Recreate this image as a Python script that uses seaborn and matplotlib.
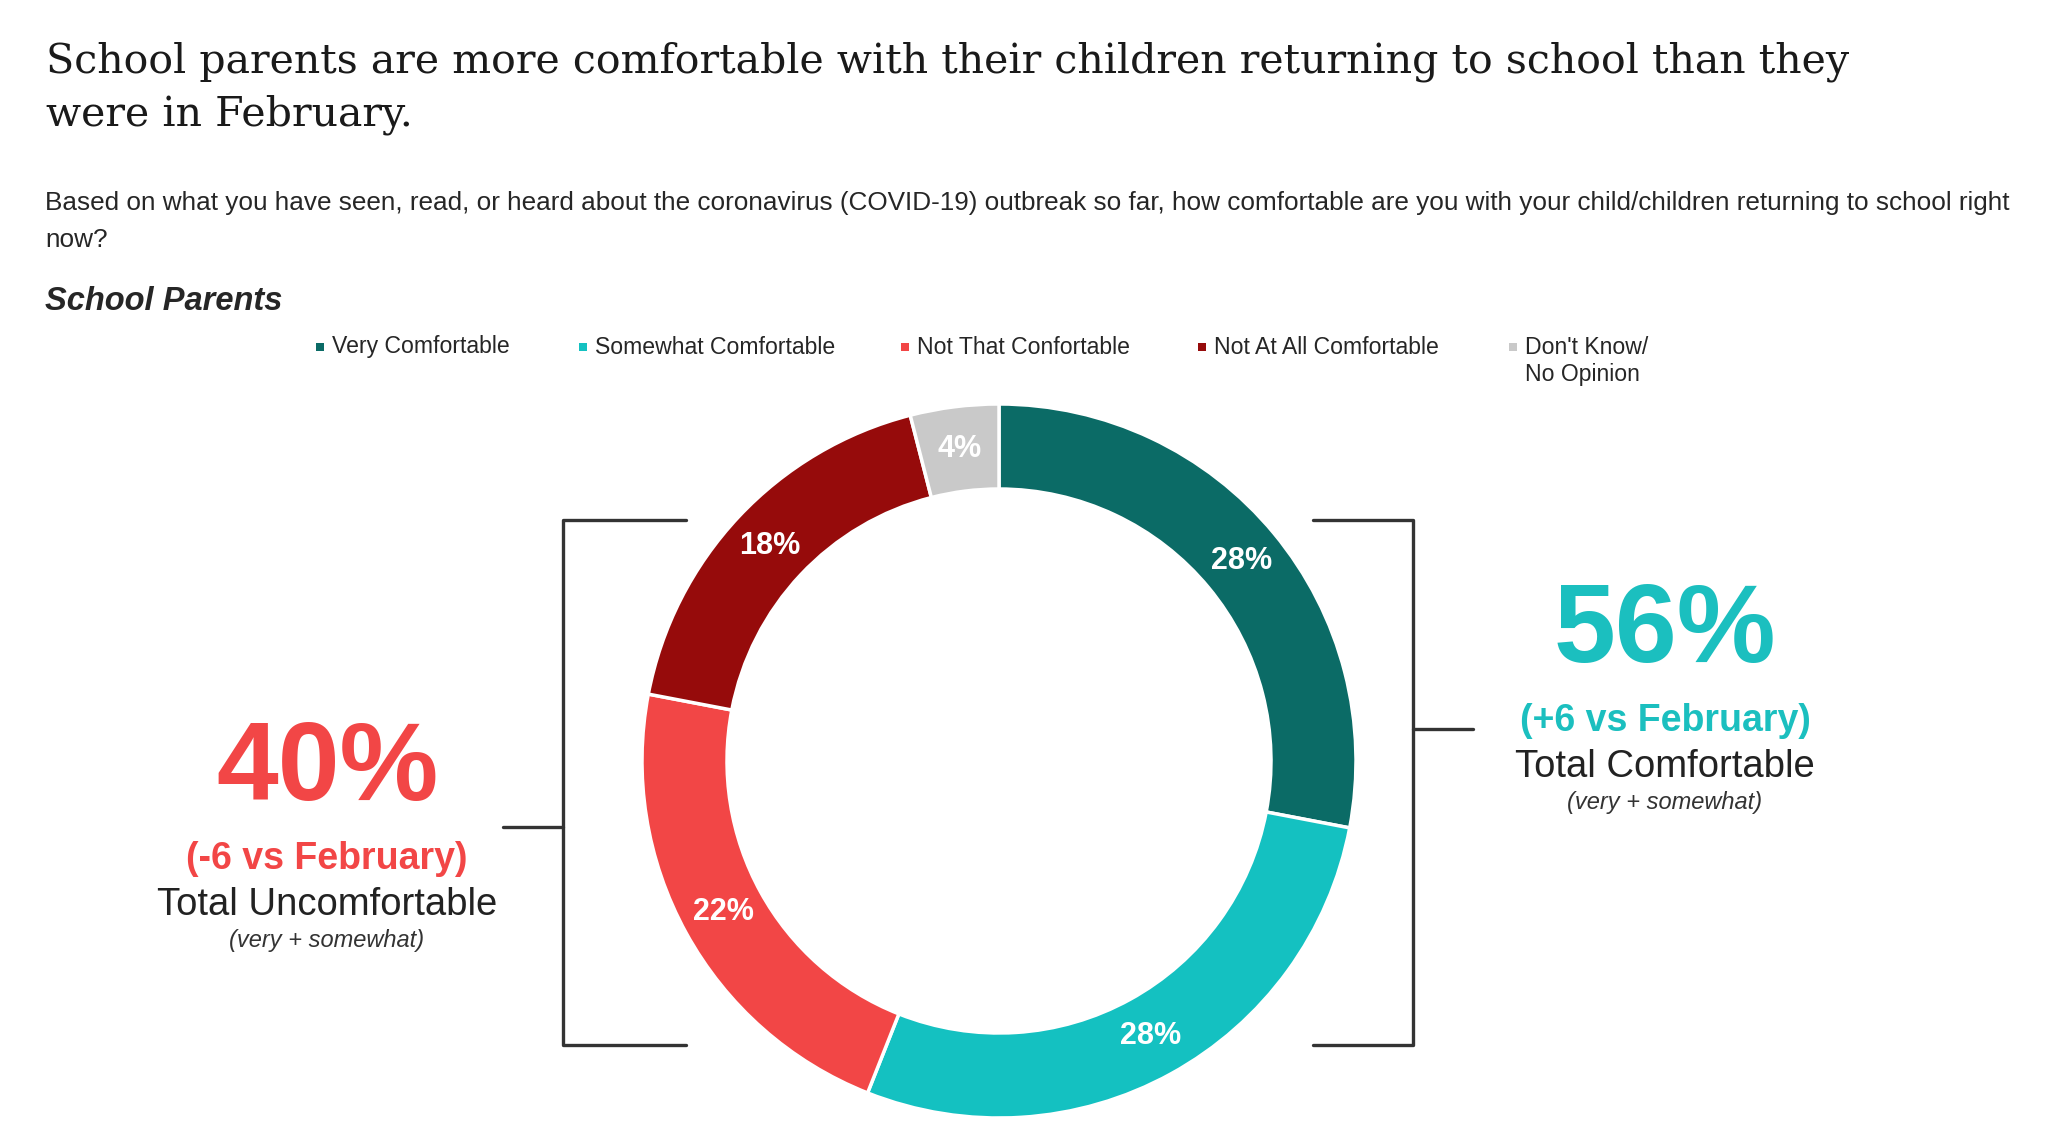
import matplotlib
matplotlib.use("Agg")
import matplotlib.pyplot as plt
import seaborn as sns

# --- data ---
categories = ["Very Comfortable", "Somewhat Comfortable", "Not That Confortable",
              "Not At All Comfortable", "Don't Know/\nNo Opinion"]
shares = [28, 28, 22, 18, 4]
palette = ["#0b6b66", "#14c1c1", "#f24646", "#960b0b", "#c9c9c9"]

total_comfortable = 56
total_uncomfortable = 40
change_comfortable = "+6"
change_uncomfortable = "-6"

W, H = 2048, 1145

sns.set_theme(style="white")
plt.rcParams["font.family"] = ["Liberation Sans", "DejaVu Sans"]

fig = plt.figure(figsize=(W / 100, H / 100), dpi=100)
ax = fig.add_axes([0, 0, 1, 1])


def Y(y):
    # pixel rows from the top -> data y
    return H - y


# titles
ax.text(46, Y(62), "School parents are more comfortable with their children returning to school than they",
        family="DejaVu Serif", fontsize=29.6, color="#1a1a1a", va="center")
ax.text(46, Y(115), "were in February.", family="DejaVu Serif", fontsize=29.6,
        color="#1a1a1a", va="center")
ax.text(45, Y(203), "Based on what you have seen, read, or heard about the coronavirus (COVID-19) outbreak "
        "so far, how comfortable are you with your child/children returning to school right",
        fontsize=18.8, color="#262626", va="center")
ax.text(45, Y(240), "now?", fontsize=18.8, color="#262626", va="center")
ax.text(45, Y(301), "School Parents", fontsize=23.5, fontweight="bold", fontstyle="italic",
        color="#262626", va="center")

# legend
leg_x = [320, 583, 905, 1202, 1513]
for x, lab, col in zip(leg_x, categories, palette):
    ax.scatter([x], [Y(347)], marker="s", s=30, color=col, linewidths=0)
    lines = lab.split("\n")
    for i, line in enumerate(lines):
        ax.text(x + 12, Y(347 + 27 * i), line, fontsize=16.6, color="#262626", va="center")

# donut
cx, cy, R = 999, 761, 357
wedges, _, autotexts = ax.pie(
    shares, colors=palette, startangle=90, counterclock=False,
    center=(cx, Y(cy)), radius=R, frame=True,
    autopct=lambda p: f"{p:.0f}%", pctdistance=0.88,
    wedgeprops=dict(width=R - 272, edgecolor="white", linewidth=2.5),
    textprops=dict(color="white", fontsize=22, fontweight="bold"))
ax.set_xlim(0, W)
ax.set_ylim(0, H)
ax.set_aspect("equal")
ax.axis("off")

# brackets
lc, lw = "#333333", 2.4
ax.plot([686, 563, 563, 686], [Y(520), Y(520), Y(1045), Y(1045)], color=lc, lw=lw)
ax.plot([503, 563], [Y(827), Y(827)], color=lc, lw=lw)
ax.plot([1313, 1413, 1413, 1313], [Y(520), Y(520), Y(1045), Y(1045)], color=lc, lw=lw)
ax.plot([1413, 1473], [Y(729), Y(729)], color=lc, lw=lw)

# totals
red, teal = "#f24646", "#1bbfbf"
ax.text(327, Y(771), f"{total_uncomfortable}%", fontsize=80, fontweight="bold", color=red,
        ha="center", va="center")
ax.text(327, Y(859), f"({change_uncomfortable} vs February)", fontsize=27, fontweight="bold",
        color=red, ha="center", va="center")
ax.text(327, Y(905), "Total Uncomfortable", fontsize=27.5, color="#222222", ha="center", va="center")
ax.text(327, Y(941), "(very + somewhat)", fontsize=17, fontstyle="italic", color="#333333",
        ha="center", va="center")

ax.text(1665, Y(633), f"{total_comfortable}%", fontsize=80, fontweight="bold", color=teal,
        ha="center", va="center")
ax.text(1665, Y(721), f"({change_comfortable} vs February)", fontsize=27, fontweight="bold",
        color=teal, ha="center", va="center")
ax.text(1665, Y(767), "Total Comfortable", fontsize=27.5, color="#222222", ha="center", va="center")
ax.text(1665, Y(803), "(very + somewhat)", fontsize=17, fontstyle="italic", color="#333333",
        ha="center", va="center")

fig.savefig("out.png", dpi=100, facecolor="white")
